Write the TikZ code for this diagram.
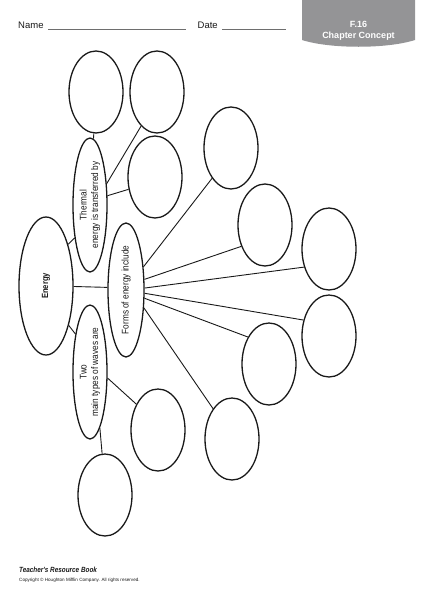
\documentclass[tikz,border=0pt]{standalone}
\usepackage{fontspec}
\usepackage{graphicx}
\setmainfont{Liberation Sans}
\newfontfamily\cond[FakeStretch=0.85]{Liberation Sans}
\usetikzlibrary{shapes.geometric}
\definecolor{tabgray}{RGB}{148,148,150}
\definecolor{ink}{RGB}{25,25,25}
\definecolor{rule}{RGB}{110,110,110}
\begin{document}
\begin{tikzpicture}[x=1pt,y=-1pt,
  bubble/.style={ellipse, draw=ink, line width=1.3pt, inner sep=0pt, minimum width=54pt, minimum height=82pt},
  concept/.style={ellipse, draw=ink, line width=1.3pt, inner sep=0pt, minimum width=34pt, minimum height=134pt, font=\cond\fontsize{9.7}{11.5}\selectfont, text=ink},
  link/.style={draw=ink, line width=0.9pt},
  head/.style={font=\fontsize{9.5}{11}\selectfont, text=ink, inner sep=0pt, anchor=base west}]
\useasboundingbox (0,0) rectangle (431,600);
% header
\node[head] (name) at (18,28.5) {Name};
\node[head] (date) at (197.5,28.5) {Date};
\draw[rule, line width=0.6pt] (48,29) -- (186,29);
\draw[rule, line width=0.6pt] (222,29) -- (286,29);
\fill[tabgray] (302,0) -- (302,40) .. controls (330,49) and (387,49) .. (415,40) -- (415,0) -- cycle;
\node[font=\bfseries\fontsize{9}{11}\selectfont, text=white, align=center, inner sep=0pt] (tab) at (358.5,30.5) {F.16\\Chapter Concept};
% main concept
\node[concept, minimum width=54pt, minimum height=138pt] (energy) at (46,286) {\rotatebox{90}{\bfseries\fontsize{9}{11}\selectfont Energy}};
\node[concept, minimum width=36pt] (forms) at (126,290) {\rotatebox{90}{Forms of energy include}};
\node[concept] (thermal) at (90,205) {\rotatebox{90}{\begin{tabular}{@{}c@{}}Thermal\\energy is transferred by\end{tabular}}};
\node[concept] (two) at (90,372) {\rotatebox{90}{\begin{tabular}{@{}c@{}}Two\\main types of waves are\end{tabular}}};
% empty bubbles
\node[bubble] (tl) at (96,92) {};
\node[bubble] (tr) at (157,92) {};
\node[bubble] (tm) at (155,177) {};
\node[bubble] (e1) at (231,148) {};
\node[bubble] (e2) at (265,225) {};
\node[bubble] (e3) at (329,249) {};
\node[bubble] (e4) at (329,336) {};
\node[bubble] (e5) at (269,364) {};
\node[bubble] (e6) at (232,439) {};
\node[bubble] (w1) at (158,430) {};
\node[bubble] (w2) at (105,495) {};
% connectors
\draw[link] (energy.359) -- (forms.172);
\draw[link] (energy.62) -- (thermal.245);
\draw[link] (energy.-60) -- (two.111);
\draw[link] (thermal.87) -- (tl.267);
\draw[link] (thermal.52) -- (tr.245);
\draw[link] (thermal.28) -- (tm.205);
\draw[link] (forms.53) -- (e1.238);
\draw[link] (forms.30) -- (e2.222);
\draw[link] (forms.6) -- (e3.216);
\draw[link] (forms.-10) -- (e4.148);
\draw[link] (forms.-24) -- (e5.128);
\draw[link] (forms.-45) -- (e6.122);
\draw[link] (two.-19) -- (w1.130);
\draw[link] (two.-80) -- (w2.94);
% footer
\node[head, font=\cond\bfseries\itshape\fontsize{7.5}{9}\selectfont] (book) at (19,572.5) {Teacher's Resource Book};
\node[head, font=\fontsize{4.6}{5.5}\selectfont] (copy) at (19,581.5) {Copyright \textcopyright\ Houghton Mifflin Company. All rights reserved.};
\end{tikzpicture}
\end{document}
